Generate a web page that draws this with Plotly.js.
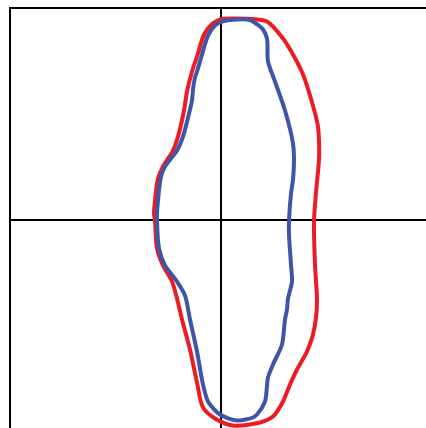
<!DOCTYPE html>
<html>
<head>
<meta charset="utf-8">
<script src="https://cdn.plot.ly/plotly-3.0.1.min.js"></script>
<style>html,body{margin:0;padding:0;background:#fff;}#chart{width:426px;height:428px;}</style>
</head>
<body>
<div id="chart"></div>
<script>
// Outline coordinates (units: offset from the axis cross), starting mid right side, going down
var redX = [93, 94, 95, 96, 95, 92, 86, 76, 69, 62, 52, 39, 12, -6, -18, -24, -31, -39, -44, -49, -58, -64, -66, -67, -66, -63, -58, -48, -43, -37, -34, -29, -23, -17, -9, 0, 12, 36, 46, 62, 72, 82, 93, 97, 98, 98, 95, 93];
var redY = [-2, -45, -62, -80, -98, -115, -132, -150, -165, -182, -197, -203, -206, -199, -188, -163, -130, -100, -79, -62, -46, -29, -2, 6, 19, 41, 53, 69, 83, 109, 128, 148, 166, 185, 195.5, 200.3, 201, 200, 198, 181, 165, 145, 110, 93, 78, 60, 27, -2];
var blueX = [68, 68, 70, 71, 67, 66, 64, 61, 52, 47, 44, 36, 32, 16, -1, -13, -18, -24, -31, -36, -44, -56, -62, -64, -64, -60, -56, -44, -38, -31, -29, -28, -26, -24, -19, -13, -6, 0, 9, 29, 39, 42, 46, 47, 54, 64, 72, 73, 72, 70, 68];
var blueY = [-2, -15, -45, -62, -79, -90, -100, -125, -145, -158, -182, -195, -198, -201, -195, -182, -165, -132, -100, -76, -62, -46, -29, -2, 6, 43, 53, 69, 83, 110, 119, 130, 142, 148, 165, 184, 194, 197.5, 199.5, 199.5, 193, 190, 181, 158, 138, 109, 76, 60, 40, 26, -2];

var traces = [
  {x: redX, y: redY, type: 'scatter', mode: 'lines',
   line: {color: '#ED1C24', width: 4, shape: 'spline', smoothing: 0.8}, hoverinfo: 'skip'},
  {x: blueX, y: blueY, type: 'scatter', mode: 'lines',
   line: {color: '#3F55A7', width: 4, shape: 'spline', smoothing: 0.8}, hoverinfo: 'skip'}
];

var layout = {
  width: 426, height: 428,
  margin: {l: 11, r: 0, t: 9, b: 0, pad: 0},
  paper_bgcolor: '#fff', plot_bgcolor: '#fff',
  showlegend: false,
  xaxis: {range: [-210, 205], side: 'top', showline: true, linecolor: '#000', linewidth: 2,
          mirror: false, showgrid: false, zeroline: true, zerolinecolor: '#000', zerolinewidth: 2,
          showticklabels: false, ticks: '', fixedrange: true},
  yaxis: {range: [-208.5, 210.5], side: 'left', showline: true, linecolor: '#000', linewidth: 2,
          mirror: false, showgrid: false, zeroline: true, zerolinecolor: '#000', zerolinewidth: 2,
          showticklabels: false, ticks: '', fixedrange: true}
};

Plotly.newPlot('chart', traces, layout, {displayModeBar: false, staticPlot: true});
</script>
</body>
</html>
